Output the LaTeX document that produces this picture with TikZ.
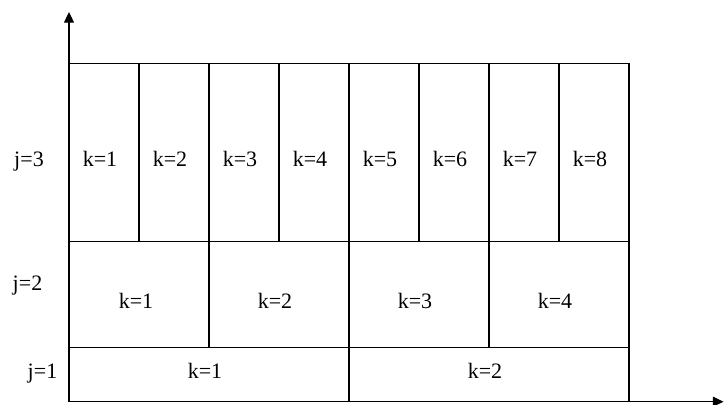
\documentclass[tikz,border=0pt]{standalone}
\usepackage{fontspec}
\setmainfont{Liberation Serif}
\usetikzlibrary{arrows.meta}
\begin{document}
\begin{tikzpicture}[x=0.75pt,y=0.75pt,
    grid/.style={black,line width=0.8pt},
    axis/.style={black,line width=0.8pt,-{Triangle[length=8pt,width=7.5pt]}},
    lab/.style={anchor=base,inner sep=0pt,font=\fontsize{16.5}{20}\selectfont}]
  \useasboundingbox (0,0) rectangle (724,404);
  % frame and row borders
  \draw[grid] (69,2.3) rectangle (629,340.7);
  \draw[grid] (69,56.3) -- (629,56.3);
  \draw[grid] (69,162.5) -- (629,162.5);
  % j=1 split
  \draw[grid] (349,2.3) -- (349,56.3);
  % j=2 splits
  \draw[grid] (209,56.3) -- (209,162.5);
  \draw[grid] (349,56.3) -- (349,162.5);
  \draw[grid] (489,56.3) -- (489,162.5);
  % j=3 splits
  \draw[grid] (139,162.5) -- (139,340.7);
  \draw[grid] (209,162.5) -- (209,340.7);
  \draw[grid] (279,162.5) -- (279,340.7);
  \draw[grid] (349,162.5) -- (349,340.7);
  \draw[grid] (419,162.5) -- (419,340.7);
  \draw[grid] (489,162.5) -- (489,340.7);
  \draw[grid] (559,162.5) -- (559,340.7);
  % axes
  \coordinate (o) at (69,2.3);
  \coordinate (ytip) at (69,392);
  \coordinate (xtip) at (723.5,2.3);
  \draw[axis] (o) -- (ytip);
  \draw[axis] (o) -- (xtip);
  % row labels
  \node[lab] (j3) at (29,237.5) {j=3};
  \node[lab] (j2) at (27.5,114) {j=2};
  \node[lab] (j1) at (42.5,26) {j=1};
  % j=3 cells
  \node[lab] (k31) at (100,237.5) {k=1};
  \node[lab] (k32) at (170,237.5) {k=2};
  \node[lab] (k33) at (240,237.5) {k=3};
  \node[lab] (k34) at (310,237.5) {k=4};
  \node[lab] (k35) at (380,237.5) {k=5};
  \node[lab] (k36) at (450,237.5) {k=6};
  \node[lab] (k37) at (520,237.5) {k=7};
  \node[lab] (k38) at (590,237.5) {k=8};
  % j=2 cells
  \node[lab] (k21) at (136,95.7) {k=1};
  \node[lab] (k22) at (275,95.7) {k=2};
  \node[lab] (k23) at (415,95.7) {k=3};
  \node[lab] (k24) at (555,95.7) {k=4};
  % j=1 cells
  \node[lab] (k11) at (205,26) {k=1};
  \node[lab] (k12) at (485,26) {k=2};
\end{tikzpicture}
\end{document}
